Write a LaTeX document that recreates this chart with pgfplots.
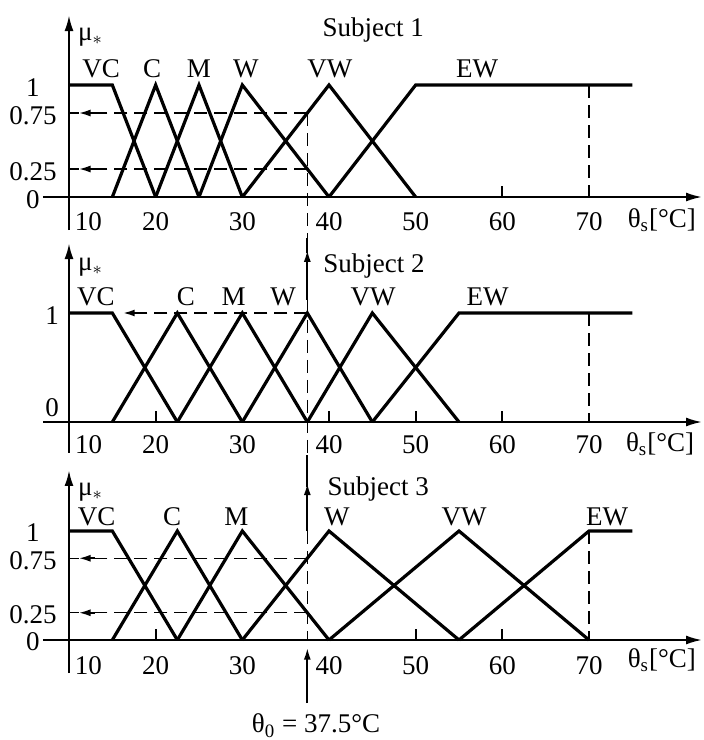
\documentclass[border=0pt]{standalone}
\usepackage{fontspec}
\setmainfont{Liberation Serif}
\usepackage{pgfplots}
\pgfplotsset{compat=1.18}
\usetikzlibrary{arrows.meta}

\pgfplotsset{
  memb/.style={
    x=4.3333pt, xmin=7, xmax=83.04, ymin=0, ymax=1.3,
    axis lines=left, clip=false,
    x axis line style={line width=1pt, -{Latex[length=8pt,width=4.5pt]}},
    y axis line style={draw=none},
    xtick={10,20,30,40,50,60,70},
    xticklabels={\makebox[0pt][l]{\hspace{3pt}10},20,30,40,50,60,70},
    major tick length=0pt,
    /pgf/number format/assume math mode=true,
    tick style={black, line width=1pt},
    extra x tick labels={},
    extra x tick style={major tick length=5.5pt, tick align=inside},
    yticklabel style={anchor=center},
  },
  mf/.style={line width=1.6pt, black, line join=miter, mark=none},
  dsh/.style={line width=0.6pt, black, dash pattern=on 6.5pt off 3.5pt, mark=none},
  sol/.style={line width=1pt, black, mark=none},
  tip/.style={line width=1pt, black, mark=none, -{Latex[length=6pt,width=3.5pt]}},
}

\begin{document}
\fontsize{13.5}{16}\selectfont
\begin{tikzpicture}
\path[use as bounding box] (0,0) rectangle (351.5pt,-370pt);

% ---------------- Subject 1 ----------------
\begin{axis}[memb, y=56pt, at={(21.5pt,-98.5pt)}, anchor=south west,
  extra x ticks={60},
  xticklabel style={anchor=base, yshift=-16.5pt},
  ytick={0,0.25,0.75,1}, yticklabels={0,0.25,0.75,1},
  yticklabel style={xshift=-5pt, yshift=-1.5pt}]
\draw[line width=1.2pt, -{Latex[length=8pt,width=4.5pt]}] (10,-0.295) -- (10,1.625);
\addplot[mf] coordinates {(10,1) (15,1) (20,0)};
\addplot[mf] coordinates {(15,0) (20,1) (25,0)};
\addplot[mf] coordinates {(20,0) (25,1) (30,0)};
\addplot[mf] coordinates {(25,0) (30,1) (40,0)};
\addplot[mf] coordinates {(30,0) (40,1) (50,0)};
\addplot[mf] coordinates {(40,0) (50,1) (75,1)};
\addplot[dsh] coordinates {(37.5,0.75) (13,0.75)};
\addplot[tip] coordinates {(13,0.75) (11.1,0.75)};
\addplot[sol, line width=0.6pt] coordinates {(11.1,0.75) (10,0.75)};
\addplot[dsh] coordinates {(37.5,0.25) (13,0.25)};
\addplot[tip] coordinates {(13,0.25) (11.1,0.25)};
\addplot[sol, line width=0.6pt] coordinates {(11.1,0.25) (10,0.25)};
\addplot[dsh] coordinates {(37.5,0.75) (37.5,-0.37)};
\addplot[dsh] coordinates {(70,1) (70,0)};
\node[anchor=base west, inner sep=0pt] at (11.0,1.40) {μ$_*$};
\node[anchor=base] at (13.7,1.07) {VC};
\node[anchor=base] at (19.6,1.07) {C};
\node[anchor=base] at (25.0,1.07) {M};
\node[anchor=base] at (30.4,1.07) {W};
\node[anchor=base] at (40.1,1.07) {VW};
\node[anchor=base] at (57.1,1.07) {EW};
\node[anchor=base] at (45.1,1.43) {Subject 1};
\node[anchor=base] at (78.4,-0.27) {θ\textsubscript{s}[°C]};
\end{axis}

% ---------------- Subject 2 ----------------
\begin{axis}[memb, y=54.5pt, at={(21.5pt,-211pt)}, anchor=south west,
  extra x ticks={20,40,50,60},
  xticklabel style={anchor=base, yshift=-15.5pt},
  ytick={1}, yticklabels={1},
  yticklabel style={xshift=4.5pt, yshift=-1.5pt},
  extra y ticks={0}, extra y tick labels={0},
  extra y tick style={yticklabel style={yshift=8.5pt}}]
\draw[line width=1.2pt, -{Latex[length=8pt,width=4.5pt]}] (10,-0.284) -- (10,1.642);
\addplot[mf] coordinates {(10,1) (15,1) (22.5,0)};
\addplot[mf] coordinates {(15,0) (22.5,1) (30,0)};
\addplot[mf] coordinates {(22.5,0) (30,1) (37.5,0)};
\addplot[mf] coordinates {(30,0) (37.5,1) (45,0)};
\addplot[mf] coordinates {(37.5,0) (45,1) (55,0)};
\addplot[mf] coordinates {(45,0) (55,1) (75,1)};
\addplot[dsh] coordinates {(37.5,1) (18.2,1)};
\addplot[tip] coordinates {(18.2,1) (16.2,1)};
\addplot[tip] coordinates {(37.5,1.12) (37.5,1.58)};
\addplot[sol] coordinates {(37.5,1.55) (37.5,1.69)};
\addplot[dsh] coordinates {(37.5,1.12) (37.5,-0.30)};
\addplot[dsh] coordinates {(70,1) (70,0)};
\node[anchor=base west, inner sep=0pt] at (11.0,1.39) {μ$_*$};
\node[anchor=base] at (13.1,1.073) {VC};
\node[anchor=base] at (23.5,1.073) {C};
\node[anchor=base] at (29.0,1.073) {M};
\node[anchor=base] at (34.7,1.073) {W};
\node[anchor=base] at (45.1,1.073) {VW};
\node[anchor=base] at (58.3,1.073) {EW};
\node[anchor=base west, inner sep=0pt] at (39.3,1.376) {Subject 2};
\node[anchor=base] at (78.2,-0.266) {θ\textsubscript{s}[°C]};
\end{axis}

% ---------------- Subject 3 ----------------
\begin{axis}[memb, y=54.5pt, at={(21.5pt,-320pt)}, anchor=south west,
  extra x ticks={20,50,60},
  xticklabel style={anchor=base, yshift=-17pt},
  ytick={0,0.25,0.75,1}, yticklabels={0,0.25,0.75,1},
  yticklabel style={xshift=-5pt, yshift=-1pt}]
\draw[line width=1.2pt, -{Latex[length=8pt,width=4.5pt]}] (10,-0.303) -- (10,1.56);
\addplot[mf] coordinates {(10,1) (15,1) (22.5,0)};
\addplot[mf] coordinates {(15,0) (22.5,1) (30,0)};
\addplot[mf] coordinates {(22.5,0) (30,1) (40,0)};
\addplot[mf] coordinates {(30,0) (40,1) (55,0)};
\addplot[mf] coordinates {(40,0) (55,1) (70,0)};
\addplot[mf] coordinates {(55,0) (70,1) (75,1)};
\addplot[dsh] coordinates {(37.5,0.75) (13,0.75)};
\addplot[tip] coordinates {(13,0.75) (11.1,0.75)};
\addplot[sol, line width=0.6pt] coordinates {(11.1,0.75) (10,0.75)};
\addplot[dsh] coordinates {(37.5,0.25) (13,0.25)};
\addplot[tip] coordinates {(13,0.25) (11.1,0.25)};
\addplot[sol, line width=0.6pt] coordinates {(11.1,0.25) (10,0.25)};
\addplot[tip] coordinates {(37.5,1.0) (37.5,1.44)};
\addplot[sol] coordinates {(37.5,1.40) (37.5,1.70)};
\addplot[dsh] coordinates {(37.5,1.0) (37.5,0)};
\addplot[sol] coordinates {(37.5,-0.58) (37.5,-0.30)};
\addplot[tip] coordinates {(37.5,-0.30) (37.5,-0.07)};
\addplot[dsh] coordinates {(70,1) (70,0)};
\node[anchor=base west, inner sep=0pt] at (11.0,1.33) {μ$_*$};
\node[anchor=base] at (13.2,1.055) {VC};
\node[anchor=base] at (21.9,1.055) {C};
\node[anchor=base] at (29.3,1.055) {M};
\node[anchor=base] at (40.9,1.055) {W};
\node[anchor=base] at (55.6,1.055) {VW};
\node[anchor=base] at (72.1,1.055) {EW};
\node[anchor=base west, inner sep=0pt] at (39.8,1.33) {Subject 3};
\node[anchor=base] at (78.4,-0.25) {θ\textsubscript{s}[°C]};
\node[anchor=base] at (38.5,-0.853) {θ\textsubscript{0} = 37.5°C};
\end{axis}
\end{tikzpicture}
\end{document}
